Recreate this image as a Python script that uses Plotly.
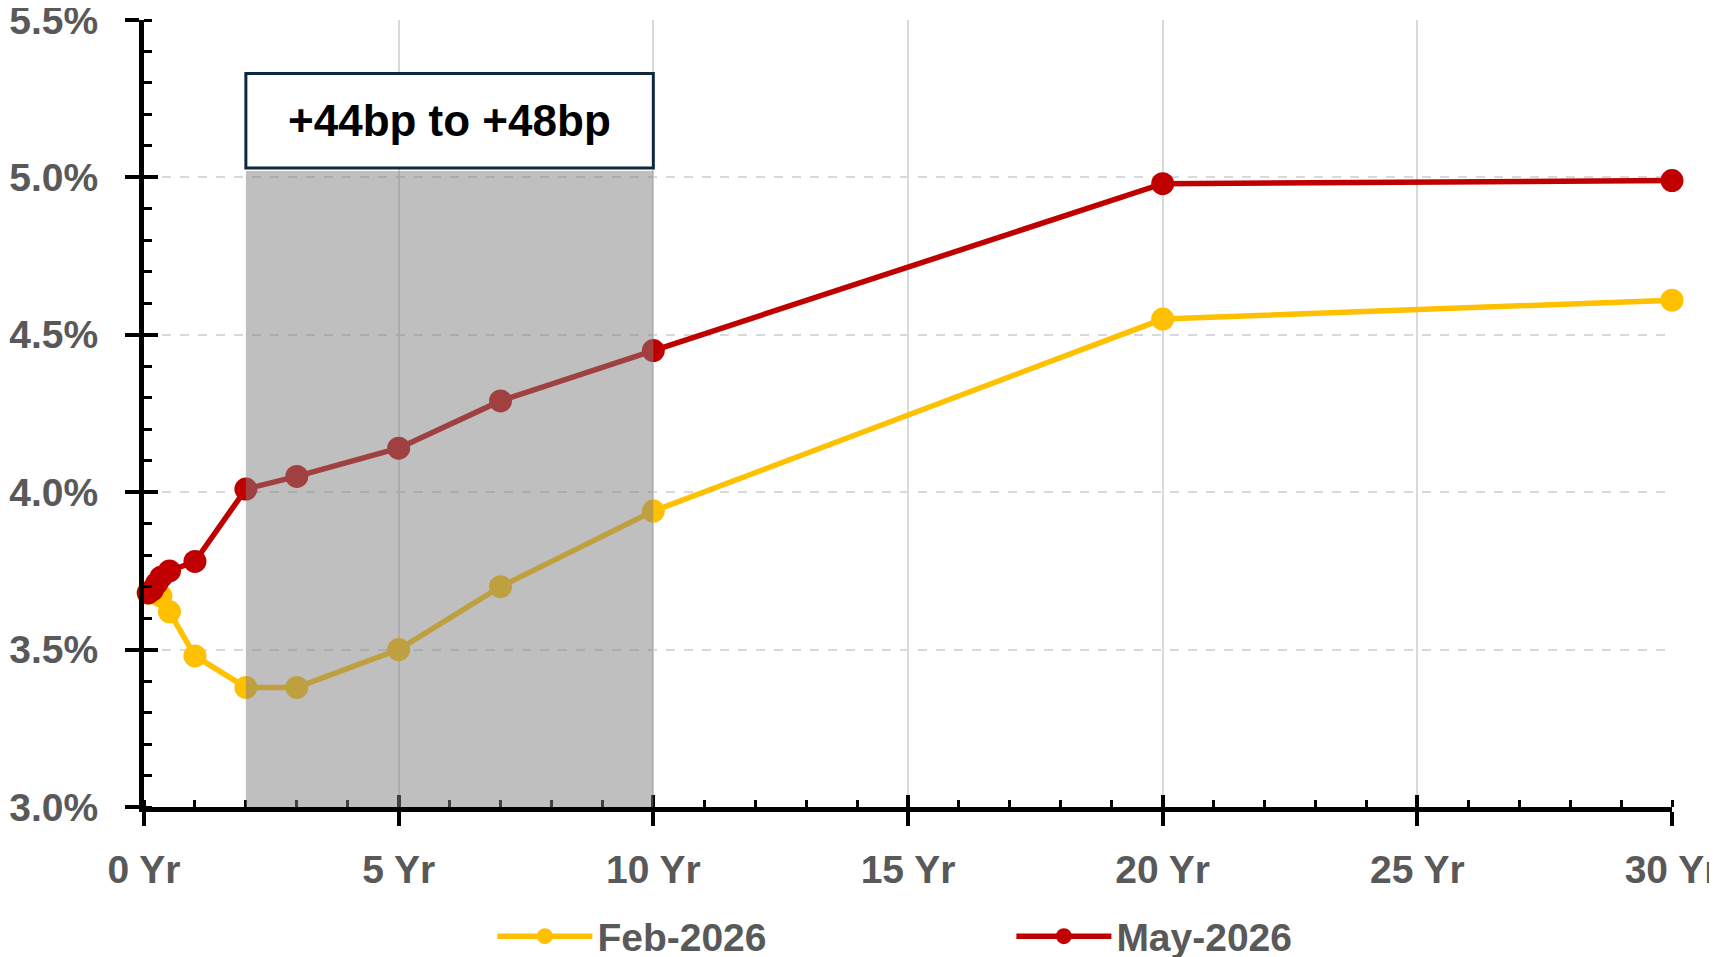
import plotly.graph_objects as go

tenor_years = [0.083, 0.167, 0.25, 0.333, 0.5, 1, 2, 3, 5, 7, 10, 20, 30]
feb_2026 = [3.68, 3.68, 3.68, 3.67, 3.62, 3.48, 3.38, 3.38, 3.50, 3.70, 3.94, 4.55, 4.61]
may_2026 = [3.68, 3.69, 3.71, 3.73, 3.75, 3.78, 4.01, 4.05, 4.14, 4.29, 4.45, 4.98, 4.99]

x_tick_vals = [0, 5, 10, 15, 20, 25, 30]
x_tick_text = ["0 Yr", "5 Yr", "10 Yr", "15 Yr", "20 Yr", "25 Yr", "30 Yr"]
y_tick_vals = [3.0, 3.5, 4.0, 4.5, 5.0, 5.5]
y_tick_text = ["3.0%", "3.5%", "4.0%", "4.5%", "5.0%", "5.5%"]

shade_range = [2, 10]
shade_top = 5.02
box_range_y = [5.03, 5.33]
box_label = "+44bp to +48bp"

FONT = "Liberation Sans"
GRAY = "#595959"

fig = go.Figure()
fig.add_trace(go.Scatter(
    x=tenor_years, y=feb_2026, name="<b>Feb-2026</b>", mode="lines+markers",
    line=dict(color="#FFC000", width=5.5), marker=dict(size=23, color="#FFC000"),
    cliponaxis=False))
fig.add_trace(go.Scatter(
    x=tenor_years, y=may_2026, name="<b>May-2026</b>", mode="lines+markers",
    line=dict(color="#C00000", width=5.5), marker=dict(size=23, color="#C00000"),
    cliponaxis=False))

# invisible helper trace for the secondary (inside tick) axes
fig.add_trace(go.Scatter(x=[0], y=[3.0], xaxis="x2", yaxis="y2", mode="markers",
                         marker=dict(opacity=0), showlegend=False, hoverinfo="skip"))

fig.add_shape(type="rect", xref="x", yref="y", x0=shade_range[0], x1=shade_range[1],
              y0=3.0, y1=shade_top, fillcolor="rgba(128,128,128,0.5)",
              line=dict(width=0), layer="above")
fig.add_shape(type="rect", xref="x", yref="y", x0=shade_range[0], x1=shade_range[1],
              y0=box_range_y[0], y1=box_range_y[1], fillcolor="white",
              line=dict(color="#0E2841", width=3), layer="above")
fig.add_annotation(x=(shade_range[0] + shade_range[1]) / 2, y=sum(box_range_y) / 2,
                   xref="x", yref="y", text="<b>" + box_label + "</b>", showarrow=False,
                   font=dict(family=FONT, size=44, color="black"))

fig.update_layout(
    width=1717, height=957,
    margin=dict(l=136, r=53, t=12, b=158),
    plot_bgcolor="white", paper_bgcolor="white",
    font=dict(family=FONT, color=GRAY),
    xaxis=dict(
        range=[0, 30], tickvals=x_tick_vals, ticktext=[f"<b>{t}</b>" for t in x_tick_text],
        tickfont=dict(size=39, color=GRAY, family=FONT),
        showline=True, linecolor="black", linewidth=5,
        ticks="outside", ticklen=14, tickwidth=4, tickcolor="black",
        ticklabelstandoff=10, automargin=False, ticklabeloverflow="allow",
        showgrid=True, gridcolor="#D9D9D9", gridwidth=1.5,
        minor=dict(dtick=1, ticks="inside", ticklen=7, tickwidth=3, tickcolor="black",
                   showgrid=False),
        zeroline=False, fixedrange=True,
    ),
    yaxis=dict(
        range=[3.0, 5.5], tickvals=y_tick_vals, ticktext=[f"<b>{t}</b>" for t in y_tick_text],
        tickfont=dict(size=39, color=GRAY, family=FONT),
        showline=True, linecolor="black", linewidth=5,
        ticks="outside", ticklen=14, tickwidth=4, tickcolor="black",
        ticklabelstandoff=19, automargin=False, ticklabeloverflow="allow",
        showgrid=True, gridcolor="#D9D9D9", gridwidth=1.5, griddash="dash",
        minor=dict(dtick=0.1, ticks="inside", ticklen=8, tickwidth=3, tickcolor="black",
                   showgrid=False),
        zeroline=False, fixedrange=True,
    ),
    xaxis2=dict(range=[0, 30], overlaying="x", anchor="y2", tickvals=x_tick_vals,
                ticks="inside", ticklen=12, tickwidth=4, tickcolor="black", automargin=False,
                showticklabels=False, showgrid=False, showline=False, zeroline=False),
    yaxis2=dict(range=[3.0, 5.5], overlaying="y", anchor="x2", tickvals=y_tick_vals,
                ticks="inside", ticklen=14, tickwidth=4, tickcolor="black", automargin=False,
                showticklabels=False, showgrid=False, showline=False, zeroline=False),
    legend=dict(orientation="h", x=0.228, xanchor="left", yref="container", y=0.03,
                yanchor="middle",
                font=dict(size=39, color=GRAY, family=FONT), entrywidth=409,
                itemwidth=95, traceorder="normal"),
    showlegend=True,
)

fig.write_html("out.html")
